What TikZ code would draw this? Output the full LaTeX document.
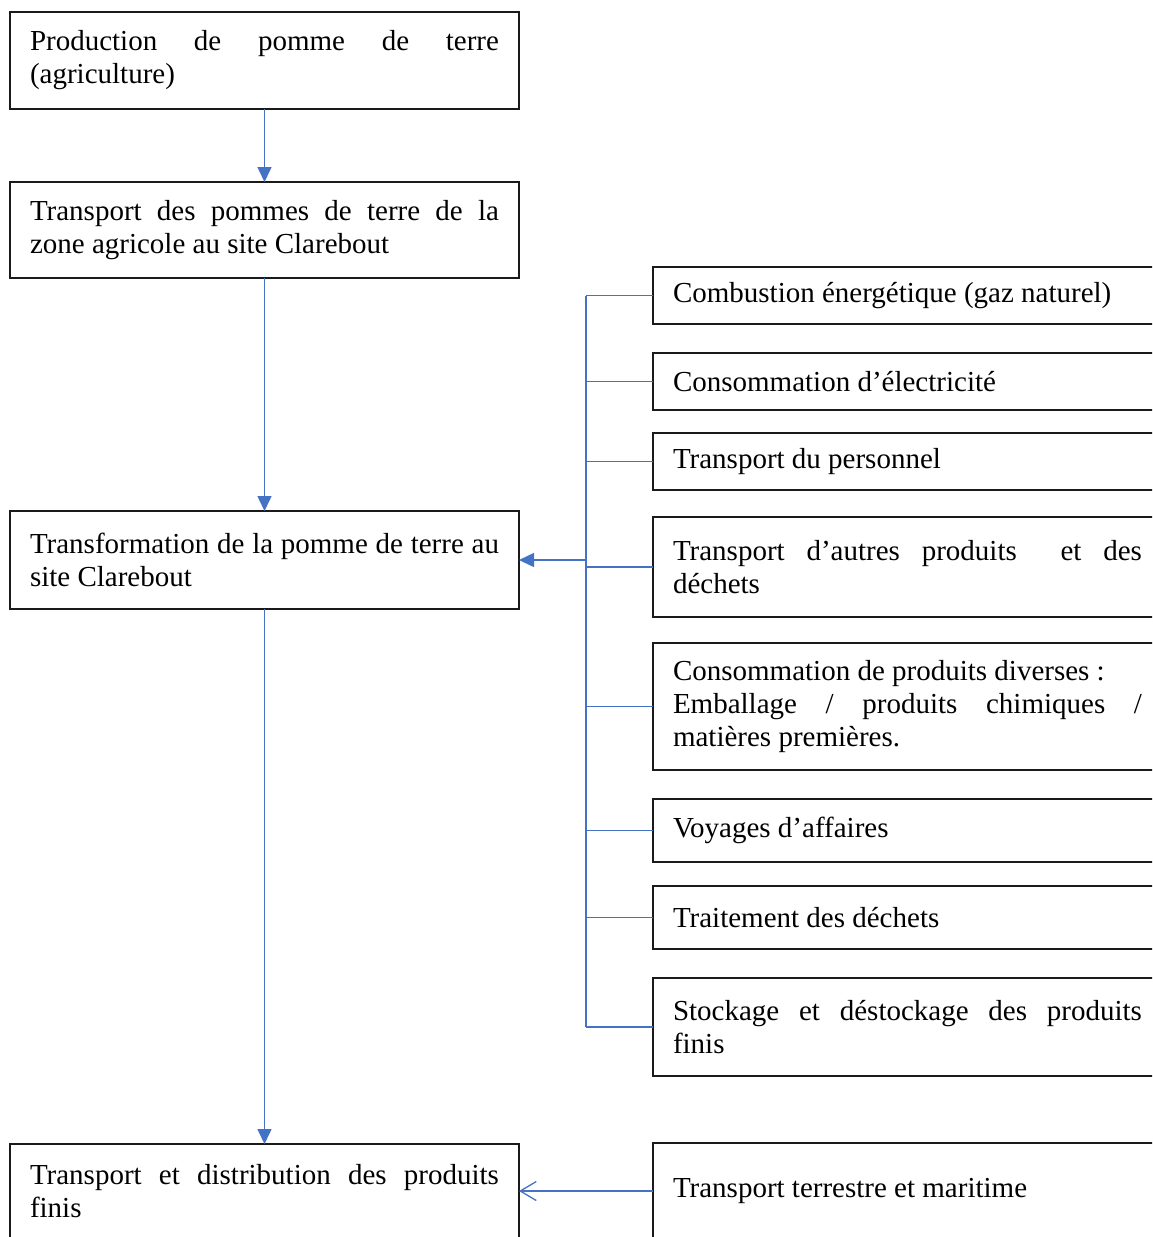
\documentclass[tikz,border=0pt]{standalone}
\usepackage{fontspec}
\setmainfont{Liberation Serif}
\usetikzlibrary{positioning, arrows.meta}
\definecolor{flow}{HTML}{4472C4}
\definecolor{edge}{HTML}{1A1A1A}

\begin{document}
\begin{tikzpicture}[
    x=1pt, y=-1pt,
    node distance=30pt,
    box/.style={rectangle, draw=edge, line width=1.2pt, outer sep=0pt,
                text width=469pt, inner xsep=20pt, inner ysep=2pt,
                align=justify, font=\fontsize{29}{33}\selectfont},
    arrow/.style={-{Triangle[length=15pt, width=14pt]}, line width=1.5pt, flow},
    link/.style={line width=1.5pt, flow},
    openarrow/.style={-{Straight Barb[length=16pt, width=19pt]}, line width=1.3pt, flow}
  ]
    \useasboundingbox (0,0) rectangle (1152,1237);
    \clip (0,0) rectangle (1152,1237);

    % main chain
    \node[box, minimum height=97pt, anchor=north west] (b1) at (10,12)
      {Production de pomme de terre\linebreak (agriculture)};
    \node[box, minimum height=96pt, below=73pt of b1] (b2)
      {Transport des pommes de terre de la\linebreak zone agricole au site Clarebout};
    \node[box, minimum height=98pt, below=233pt of b2] (b3)
      {Transformation de la pomme de terre au\linebreak site Clarebout};
    \node[box, minimum height=95pt, below=535pt of b3] (b4)
      {Transport et distribution des produits\linebreak finis};

    % emission sources
    \node[box, minimum height=57pt, anchor=north west] (r1) at (653,267)
      {Combustion énergétique (gaz naturel)};
    \node[box, minimum height=57pt, below=29pt of r1] (r2) {Consommation d’électricité};
    \node[box, minimum height=57pt, below=23pt of r2] (r3) {Transport du personnel};
    \node[box, minimum height=100pt, below=27pt of r3] (r4)
      {Transport d’autres produits \ et des\linebreak déchets};
    \node[box, minimum height=127pt, below=26pt of r4] (r5)
      {Consommation de produits diverses :\\ Emballage / produits chimiques /\linebreak matières premières.};
    \node[box, minimum height=63pt, below=29pt of r5] (r6) {Voyages d’affaires};
    \node[box, minimum height=63pt, below=24pt of r6] (r7) {Traitement des déchets};
    \node[box, minimum height=98pt, below=29pt of r7] (r8)
      {Stockage et déstockage des produits\linebreak finis};
    \node[box, minimum height=96pt, below=67pt of r8] (r9) {Transport terrestre et maritime};

    \coordinate[left=67pt of r1.west] (bustop);
    \coordinate (busend) at (bustop |- r8.west);

    \draw[arrow] (b1) -- (b2);
    \draw[arrow] (b2) -- (b3);
    \draw[arrow] (b3) -- (b4);

    \draw[link] (bustop) -- (busend);
    \foreach \src in {r1,r2,r3,r4,r5,r6,r7,r8}
      \draw[link] (bustop |- \src.west) -- (\src.west);
    \draw[arrow] (bustop |- b3.east) -- (b3.east);
    \draw[openarrow] (r9.west) -- (b4.east |- r9.west);
  \end{tikzpicture}
\end{document}
